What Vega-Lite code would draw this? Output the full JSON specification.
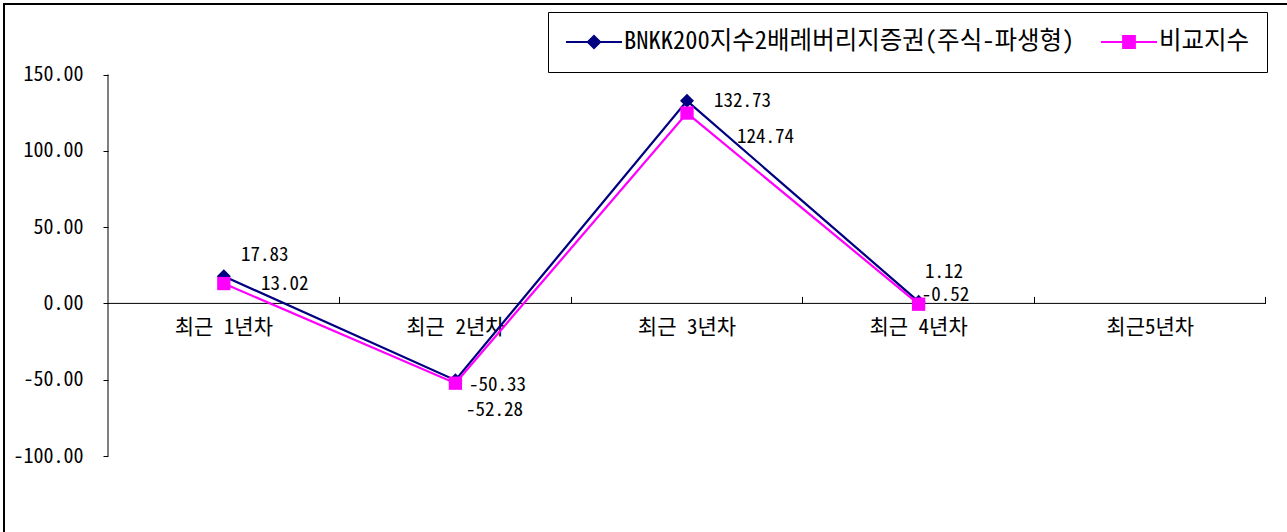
{
  "$schema": "https://vega.github.io/schema/vega-lite/v6.json",
  "width": 1283,
  "height": 528,
  "autosize": {"type": "none"},
  "padding": {"left": 4, "top": 4, "right": 0, "bottom": 0},
  "background": "white",
  "config": {
    "view": {"stroke": "black", "strokeWidth": 2, "strokeDash": [1283, 1811, 528, 10]},
    "locale": {"number": {"decimal": ".", "thousands": ",", "grouping": [3], "currency": ["", ""], "minus": "-"}},
    "axis": {"grid": false, "labelFont": "Noto Sans Mono CJK KR, Noto Sans CJK KR, sans-serif", "labelColor": "black", "tickColor": "black", "domainColor": "black"},
    "text": {"font": "Noto Sans Mono CJK KR, Noto Sans CJK KR, sans-serif", "fontSize": 19, "color": "black", "baseline": "middle", "align": "center"}
  },
  "datasets": {
    "perf": [
      {"period": "최근 1년차", "series": "BNKK200지수2배레버리지증권(주식-파생형)", "value": 17.83},
      {"period": "최근 2년차", "series": "BNKK200지수2배레버리지증권(주식-파생형)", "value": -50.33},
      {"period": "최근 3년차", "series": "BNKK200지수2배레버리지증권(주식-파생형)", "value": 132.73},
      {"period": "최근 4년차", "series": "BNKK200지수2배레버리지증권(주식-파생형)", "value": 1.12},
      {"period": "최근 1년차", "series": "비교지수", "value": 13.02},
      {"period": "최근 2년차", "series": "비교지수", "value": -52.28},
      {"period": "최근 3년차", "series": "비교지수", "value": 124.74},
      {"period": "최근 4년차", "series": "비교지수", "value": -0.52}
    ]
  },
  "data": {"name": "perf"},
  "resolve": {"axis": {"x": "independent"}},
  "layer": [
    {
      "data": {"values": [{}]},
      "mark": {"type": "rule", "color": "black", "strokeWidth": 1},
      "encoding": {
        "x": {"datum": "최근 1년차", "type": "nominal", "bandPosition": 0, "axis": null},
        "x2": {"datum": "최근5년차", "bandPosition": 1},
        "y": {"datum": 0, "type": "quantitative"}
      }
    },
    {
      "data": {"values": [{}]},
      "mark": {"type": "rule", "color": "black", "strokeWidth": 1},
      "encoding": {
        "x": {"datum": "최근 1년차", "type": "nominal", "bandPosition": 0, "axis": null},
        "y": {"datum": -100, "type": "quantitative"},
        "y2": {"datum": 150}
      }
    },
    {
      "mark": {"type": "line", "strokeWidth": 2.25},
      "encoding": {
        "x": {
          "field": "period", "type": "nominal",
          "scale": {"domain": ["최근 1년차", "최근 2년차", "최근 3년차", "최근 4년차", "최근5년차"], "paddingInner": 0, "paddingOuter": 0.2699, "align": 0.832},
          "axis": {"orient": "bottom", "offset": -228.6, "ticks": false, "domain": false, "labelPadding": 13, "labelFontSize": 21, "labelAngle": 0, "title": null}
        },
        "y": {
          "field": "value", "type": "quantitative",
          "scale": {"domain": [-149.8, 196.2], "nice": false, "zero": false},
          "axis": {"values": [-100, -50, 0, 50, 100, 150], "format": ".2f", "tickSize": 5, "labelPadding": 20, "labelFontSize": 20, "domain": false, "offset": -104, "title": null}
        },
        "color": {
          "field": "series", "type": "nominal",
          "scale": {"domain": ["BNKK200지수2배레버리지증권(주식-파생형)", "비교지수"], "range": ["#000080", "#FF00FF"]},
          "legend": {
            "orient": "none", "legendX": 544, "legendY": 8, "direction": "horizontal", "title": null,
            "symbolSize": 3136, "symbolStrokeWidth": 2, "clipHeight": 26, "labelFontSize": 24.5,
            "labelFont": "Noto Sans Mono CJK KR, Noto Sans CJK KR, sans-serif", "labelColor": "black", "labelLimit": 0,
            "padding": 17, "columnPadding": 25, "labelOffset": 1, "strokeColor": "black", "fillColor": "white",
            "encode": {"symbols": {"update": {
              "shape": {"signal": "datum.value === '비교지수' ? 'M-1,0H1M-0.21,-0.21H0.21V0.21H-0.21Z' : 'M-1,0H1M0,-0.22L0.22,0L0,0.22L-0.22,0Z'"},
              "fill": {"scale": "color", "field": "value"},
              "stroke": {"scale": "color", "field": "value"},
              "strokeWidth": {"value": 2},
              "opacity": {"value": 1}
            }}}
          }
        }
      }
    },
    {
      "transform": [{"filter": "datum.series !== '비교지수'"}],
      "mark": {"type": "point", "shape": "diamond", "filled": true, "size": 196, "color": "#000080", "opacity": 1},
      "encoding": {
        "x": {"field": "period", "type": "nominal", "axis": {"orient": "bottom", "offset": -228.6, "labels": false, "domain": false, "bandPosition": 1, "tickSize": -7, "title": null}},
        "y": {"field": "value", "type": "quantitative"}
      }
    },
    {
      "transform": [{"filter": "datum.series === '비교지수'"}],
      "mark": {"type": "point", "shape": "square", "filled": true, "size": 177, "color": "#FF00FF", "opacity": 1},
      "encoding": {
        "x": {"field": "period", "type": "nominal", "axis": null},
        "y": {"field": "value", "type": "quantitative"}
      }
    },
    {
      "transform": [{"filter": "datum.series !== '비교지수' && datum.period === '최근 1년차'"}],
      "mark": {"type": "text", "dx": 41, "dy": -21},
      "encoding": {"x": {"field": "period", "type": "nominal", "axis": null}, "y": {"field": "value", "type": "quantitative"}, "text": {"field": "value", "format": ".2f"}}
    },
    {
      "transform": [{"filter": "datum.series === '비교지수' && datum.period === '최근 1년차'"}],
      "mark": {"type": "text", "dx": 61, "dy": 0},
      "encoding": {"x": {"field": "period", "type": "nominal", "axis": null}, "y": {"field": "value", "type": "quantitative"}, "text": {"field": "value", "format": ".2f"}}
    },
    {
      "transform": [{"filter": "datum.series !== '비교지수' && datum.period === '최근 2년차'"}],
      "mark": {"type": "text", "dx": 42, "dy": 5},
      "encoding": {"x": {"field": "period", "type": "nominal", "axis": null}, "y": {"field": "value", "type": "quantitative"}, "text": {"field": "value", "format": ".2f"}}
    },
    {
      "transform": [{"filter": "datum.series === '비교지수' && datum.period === '최근 2년차'"}],
      "mark": {"type": "text", "dx": 39, "dy": 27},
      "encoding": {"x": {"field": "period", "type": "nominal", "axis": null}, "y": {"field": "value", "type": "quantitative"}, "text": {"field": "value", "format": ".2f"}}
    },
    {
      "transform": [{"filter": "datum.series !== '비교지수' && datum.period === '최근 3년차'"}],
      "mark": {"type": "text", "dx": 55.5, "dy": 0.5},
      "encoding": {"x": {"field": "period", "type": "nominal", "axis": null}, "y": {"field": "value", "type": "quantitative"}, "text": {"field": "value", "format": ".2f"}}
    },
    {
      "transform": [{"filter": "datum.series === '비교지수' && datum.period === '최근 3년차'"}],
      "mark": {"type": "text", "dx": 78.5, "dy": 24},
      "encoding": {"x": {"field": "period", "type": "nominal", "axis": null}, "y": {"field": "value", "type": "quantitative"}, "text": {"field": "value", "format": ".2f"}}
    },
    {
      "transform": [{"filter": "datum.series !== '비교지수' && datum.period === '최근 4년차'"}],
      "mark": {"type": "text", "dx": 25.5, "dy": -29.5},
      "encoding": {"x": {"field": "period", "type": "nominal", "axis": null}, "y": {"field": "value", "type": "quantitative"}, "text": {"field": "value", "format": ".2f"}}
    },
    {
      "transform": [{"filter": "datum.series === '비교지수' && datum.period === '최근 4년차'"}],
      "mark": {"type": "text", "dx": 27, "dy": -8.7},
      "encoding": {"x": {"field": "period", "type": "nominal", "axis": null}, "y": {"field": "value", "type": "quantitative"}, "text": {"field": "value", "format": ".2f"}}
    }
  ]
}
